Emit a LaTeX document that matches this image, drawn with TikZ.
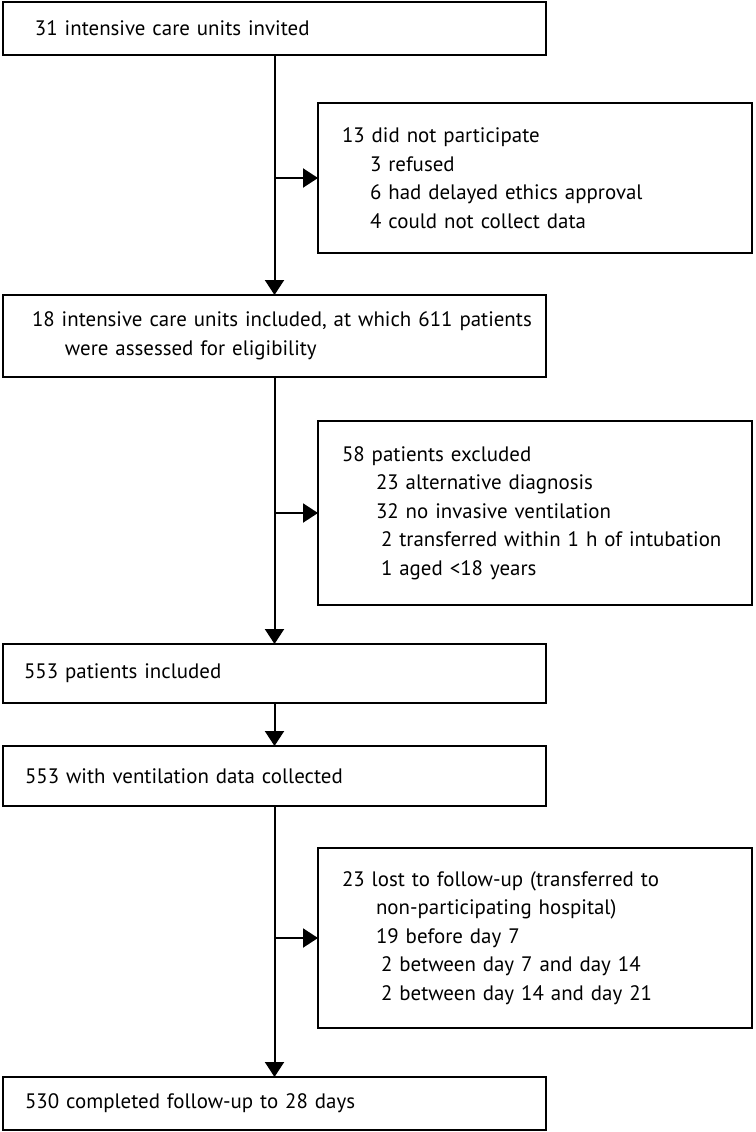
\documentclass[tikz,border=0pt]{standalone}
\usepackage{fontspec}
\setmainfont{PT Sans}
\usetikzlibrary{arrows.meta}

\begin{document}
\begin{tikzpicture}
[x=1pt, y=-1pt,
  textpad/.style={execute at begin node={\leftskip=#1}},
  boxdecorate/.style={shape=rectangle, draw, line width=2pt, anchor=north west,
    inner xsep=0pt, inner ysep=0pt, outer sep=0pt, align=left,
    font=\fontsize{20.9pt}{28.5pt}\selectfont},
  mainbox/.style={boxdecorate, text width=543pt},
  sidebox/.style={boxdecorate, text width=434pt, textpad=24pt},
  linedecorate/.style={-{Triangle[length=15pt,width=19pt]}, line width=2pt}]
\useasboundingbox (0,0) rectangle (755,1132);
%% main boxes
\foreach \nodename/\y/\h/\pad/\nodetext in {
  invited/2/53/32/{31 intensive care units invited},
  assessed/295/82/29/{18 intensive care units included, at which 611 patients\\
    \hspace*{33pt}were assessed for eligibility},
  included/644/59/21/{553 patients included},
  ventdata/746/60/22/{553 with ventilation data collected},
  completed/1077/53/22/{530 completed follow-up to 28 days}} {
  \node (\nodename) at (3,\y) [mainbox, minimum height=\h pt, textpad=\pad pt] {\nodetext};
}
%% side boxes
\foreach \nodename/\y/\h/\nodetext in {
  noparticip/103/150/{13 did not participate\\
    \hspace*{28pt}3 refused\\
    \hspace*{28pt}6 had delayed ethics approval\\
    \hspace*{28pt}4 could not collect data},
  excluded/421/184/{58 patients excluded\\
    \hspace*{34pt}23 alternative diagnosis\\
    \hspace*{34pt}32 no invasive ventilation\\
    \hspace*{39pt}2 transferred within 1 h of intubation\\
    \hspace*{39pt}1 aged <18 years},
  lostfu/848/180/{23 lost to follow-up (transferred to\\
    \hspace*{34pt}non-participating hospital)\\
    \hspace*{34pt}19 before day 7\\
    \hspace*{39pt}2 between day 7 and day 14\\
    \hspace*{39pt}2 between day 14 and day 21}} {
  \node (\nodename) at (318,\y) [sidebox, minimum height=\h pt] {\nodetext};
}
%% spine arrows
\path
\foreach \startnode/\endnode in {invited/assessed, assessed/included,
  included/ventdata, ventdata/completed} {
  (\startnode) edge[linedecorate] (\endnode)
};
%% side arrows
\path
\foreach \spinenode/\sidenode in {invited/noparticip, assessed/excluded,
  ventdata/lostfu} {
  (\spinenode.south |- \sidenode.west) edge[linedecorate] (\sidenode.west)
};
\end{tikzpicture}
\end{document}
